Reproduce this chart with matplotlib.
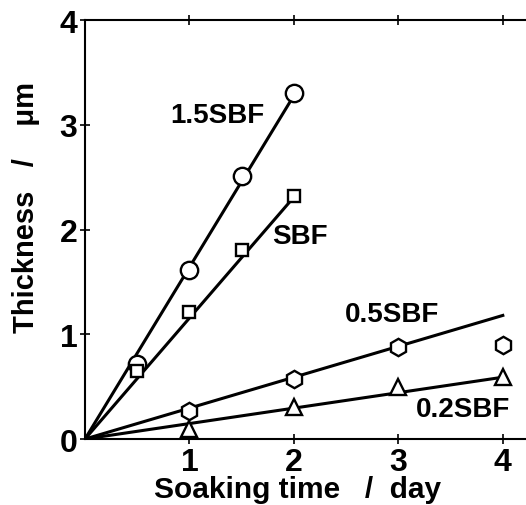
import numpy as np
import matplotlib
matplotlib.use("Agg")
import matplotlib.pyplot as plt

plt.rcParams['font.family'] = ['Liberation Sans', 'DejaVu Sans']

# ── measured points ───────────────────────────────────────────
t_15 = [0.5, 1.0, 1.5, 2.0]
y_15 = [0.72, 1.61, 2.51, 3.30]

t_sbf = [0.5, 1.0, 1.5, 2.0]
y_sbf = [0.65, 1.21, 1.80, 2.32]

t_05 = [1.0, 2.0, 3.0, 4.0]
y_05 = [0.27, 0.57, 0.88, 0.90]

t_02 = [1.0, 2.0, 3.0, 4.0]
y_02 = [0.10, 0.31, 0.50, 0.59]

# ── fitted lines (start, end) ─────────────────────────────────
fit_t_15 = [0.0, 2.0];  fit_y_15 = [0.0, 3.28]
fit_t_sbf = [0.0, 2.0]; fit_y_sbf = [0.0, 2.31]
fit_t_05 = [0.0, 4.0];  fit_y_05 = [0.0, 1.18]
fit_t_02 = [0.0, 4.0];  fit_y_02 = [0.0, 0.59]

labels = ['1.5SBF', 'SBF', '0.5SBF', '0.2SBF']

fig = plt.figure(figsize=(5.26, 5.06), dpi=100)
ax = fig.add_axes([0.1616, 0.1304, 0.84, 0.828])

lw = 2.2
mk = dict(markerfacecolor='white', markeredgecolor='black',
          markeredgewidth=1.7, linestyle='none', zorder=5)

ax.plot(fit_t_15, fit_y_15, color='black', lw=lw)
ax.plot(fit_t_sbf, fit_y_sbf, color='black', lw=lw)
ax.plot(fit_t_05, fit_y_05, color='black', lw=lw)
ax.plot(fit_t_02, fit_y_02, color='black', lw=lw)

ax.plot(t_15, y_15, marker='o', markersize=12.5, **mk)
ax.plot(t_sbf, y_sbf, marker='s', markersize=9, **mk)
ax.plot(t_05, y_05, marker='h', markersize=12.5, **mk)
ax.plot(t_02, y_02, marker='^', markersize=11, **mk)

fs_lab = 20
ax.text(0.82, 3.09, labels[0], fontsize=fs_lab, fontweight='bold', ha='left', va='center')
ax.text(1.79, 1.94, labels[1], fontsize=fs_lab, fontweight='bold', ha='left', va='center')
ax.text(2.49, 1.19, labels[2], fontsize=fs_lab, fontweight='bold', ha='left', va='center')
ax.text(3.17, 0.29, labels[3], fontsize=fs_lab, fontweight='bold', ha='left', va='center')

ax.set_xlim(0, 4.23)
ax.set_ylim(0, 4)
ax.set_xticks([1, 2, 3, 4])
ax.set_yticks([0, 1, 2, 3, 4])
ax.tick_params(direction='inout', length=7, width=1.2, labelsize=23,
               top=True, right=False, pad=2)
for lab in ax.get_xticklabels() + ax.get_yticklabels():
    lab.set_fontweight('bold')
for sp in ['left', 'bottom', 'top']:
    ax.spines[sp].set_linewidth(1.5)
ax.spines['right'].set_visible(False)

ax.set_xlabel('Soaking time   /  day', fontsize=21.5, fontweight='bold')
ax.xaxis.set_label_coords(0.481, -0.085, transform=ax.transAxes)
ax.xaxis.label.set_va('top')
ax.set_ylabel('Thickness   /    μm', fontsize=21, fontweight='bold')
ax.yaxis.set_label_coords(-0.102, 0.554, transform=ax.transAxes)

fig.savefig('out.png', dpi=100)
